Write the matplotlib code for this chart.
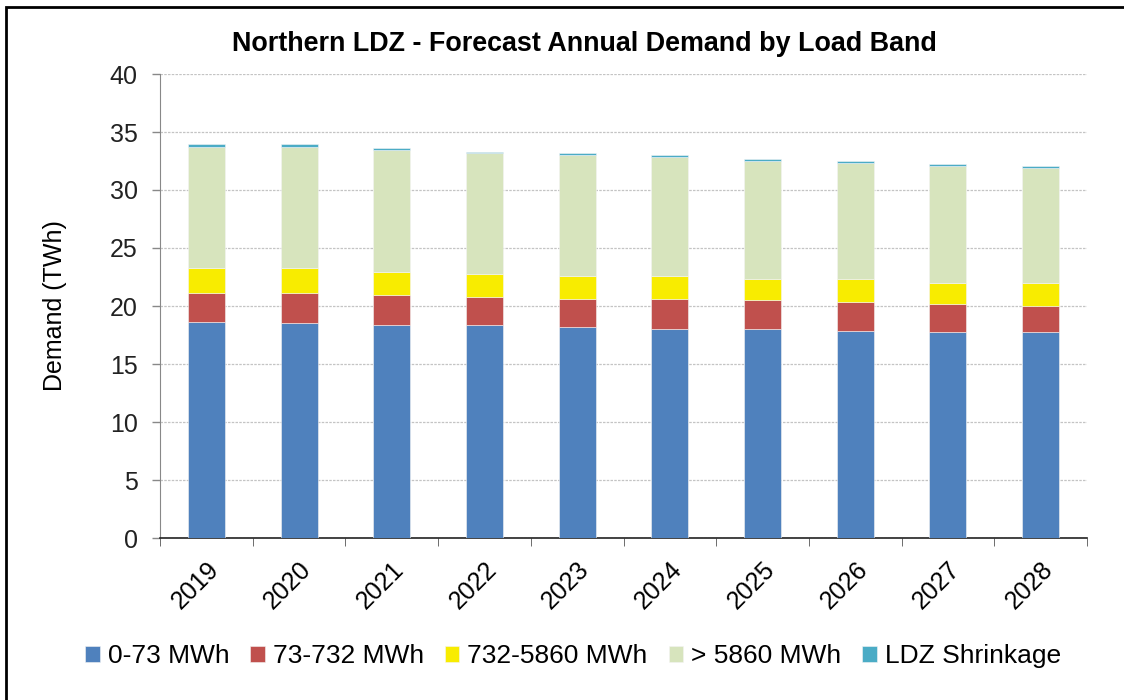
import matplotlib
matplotlib.use("Agg")
import matplotlib.pyplot as plt
import numpy as np

plt.rcParams['font.family'] = ['Liberation Sans', 'DejaVu Sans']

years = ['2019', '2020', '2021', '2022', '2023', '2024', '2025', '2026', '2027', '2028']
band_0_73 = [18.65, 18.5, 18.33, 18.33, 18.16, 18.02, 18.02, 17.87, 17.73, 17.73]
band_73_732 = [2.44, 2.59, 2.62, 2.45, 2.47, 2.61, 2.47, 2.45, 2.44, 2.30]
band_732_5860 = [2.16, 2.16, 1.95, 1.98, 1.98, 1.98, 1.81, 1.98, 1.81, 1.95]
band_5860 = [10.49, 10.49, 10.55, 10.40, 10.38, 10.21, 10.23, 10.06, 10.06, 9.92]
shrinkage = [0.2, 0.2, 0.15, 0.15, 0.17, 0.17, 0.17, 0.17, 0.2, 0.17]

series = [
    ('0-73 MWh', band_0_73, '#4F81BD'),
    ('73-732 MWh', band_73_732, '#C0504D'),
    ('732-5860 MWh', band_732_5860, '#F8EC00'),
    ('> 5860 MWh', band_5860, '#D7E4BD'),
    ('LDZ Shrinkage', shrinkage, '#4BACC6'),
]

fig = plt.figure(figsize=(11.24, 7.0), dpi=100)
ax = fig.add_axes([160 / 1124, 1 - 538 / 700, 927 / 1124, 464 / 700])

# outer frame (only top and left edges show in the original)
fig.patches.append(plt.Rectangle((6 / 1124, -0.05), 1.2, 1 - 7 / 700 + 0.05,
                                 transform=fig.transFigure, fill=False,
                                 edgecolor='black', linewidth=2))

x = np.arange(len(years))
bottom = np.zeros(len(years))
for label, vals, color in series:
    ax.bar(x, vals, 0.4, bottom=bottom, color=color, label=label,
           edgecolor='#f4f4f4', linewidth=0.4, zorder=3)
    bottom += np.array(vals)

ax.set_xlim(-0.5, len(years) - 0.5)
ax.set_ylim(0, 40)
ax.set_yticks(range(0, 41, 5))
ax.tick_params(axis='y', labelsize=18, labelcolor='#222222', color='#888888',
               length=6, width=1, direction='out', pad=10)

ax.set_xticks(x)
ax.set_xticklabels(years, rotation=45, ha='right', rotation_mode='anchor', fontsize=18)
ax.set_xticks(np.arange(-0.5, len(years)), minor=True)
ax.tick_params(axis='x', which='major', length=0, pad=14)
ax.tick_params(axis='x', which='minor', length=6, color='#555555', direction='out')

ax.yaxis.grid(True, linestyle=(0, (2, 1)), color='#c4c4c4', linewidth=0.9, zorder=0)
ax.set_axisbelow(True)

for s in ['top', 'right']:
    ax.spines[s].set_visible(False)
ax.spines['left'].set_color('#888888')
ax.spines['bottom'].set_color('#222222')
ax.spines['bottom'].set_linewidth(1.2)

ax.set_ylabel('Demand (TWh)', fontsize=18, labelpad=31)
fig.text(584 / 1124, 1 - 44 / 700, 'Northern LDZ - Forecast Annual Demand by Load Band',
         fontsize=19.4, fontweight='bold', ha='center', va='center')

handles, labels = ax.get_legend_handles_labels()
fig.legend(handles, labels, loc='center', bbox_to_anchor=(573 / 1124, 1 - 656 / 700),
           ncol=5, frameon=False, fontsize=19, handlelength=0.55, handleheight=0.55,
           handletextpad=0.3, columnspacing=0.8)

fig.savefig('out.png', dpi=100)
